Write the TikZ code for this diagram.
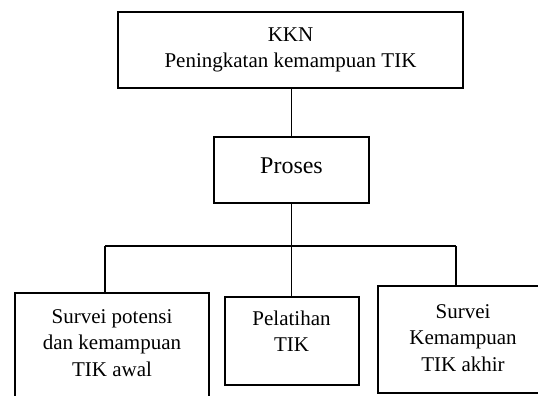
\documentclass[tikz,border=0pt]{standalone}
\usepackage{fontspec}
\setmainfont{Liberation Serif}
\begin{document}
\begin{tikzpicture}[x=1pt,y=-1pt,
  boxst/.style={draw, line width=1.8pt, rectangle, inner sep=0pt},
  txt/.style={align=center, inner sep=0pt, font=\fontsize{21}{26.5}\selectfont},
  conn/.style={line width=1.8pt}]
\clip (0,0) rectangle (538,396);
% top box
\node[boxst, txt, minimum width=345pt, minimum height=76pt] (top) at (290.5,50) {KKN\\Peningkatan kemampuan TIK};
% proses
\node[boxst, minimum width=155pt, minimum height=66pt] (proses) at (291.5,170) {};
\node[txt, font=\fontsize{24}{29}\selectfont] (prosest) at (291.5,166) {Proses};
% bottom boxes
\node[boxst, minimum width=194pt, minimum height=110pt] (b1) at (112,348) {};
\node[txt] (b1t) at (112,343) {Survei potensi\\dan kemampuan\\TIK awal};
\node[boxst, minimum width=134pt, minimum height=88pt] (b2) at (292,341) {};
\node[txt] (b2t) at (291.5,331) {Pelatihan\\TIK};
\node[boxst, minimum width=170pt, minimum height=107pt] (b3) at (463,339.5) {};
\node[txt] (b3t) at (463,338) {Survei\\Kemampuan\\TIK akhir};
% connectors
\coordinate (jl) at (105,246);
\coordinate (jr) at (456,246);
\draw[conn] (top.south -| proses.north) -- (proses.north);
\draw[conn] (proses.south) -- (proses.south |- b2.north);
\draw[conn] (jl) -- (jr);
\draw[conn] (jl) -- (jl |- b1.north);
\draw[conn] (jr) -- (jr |- b3.north);
\end{tikzpicture}
\end{document}
